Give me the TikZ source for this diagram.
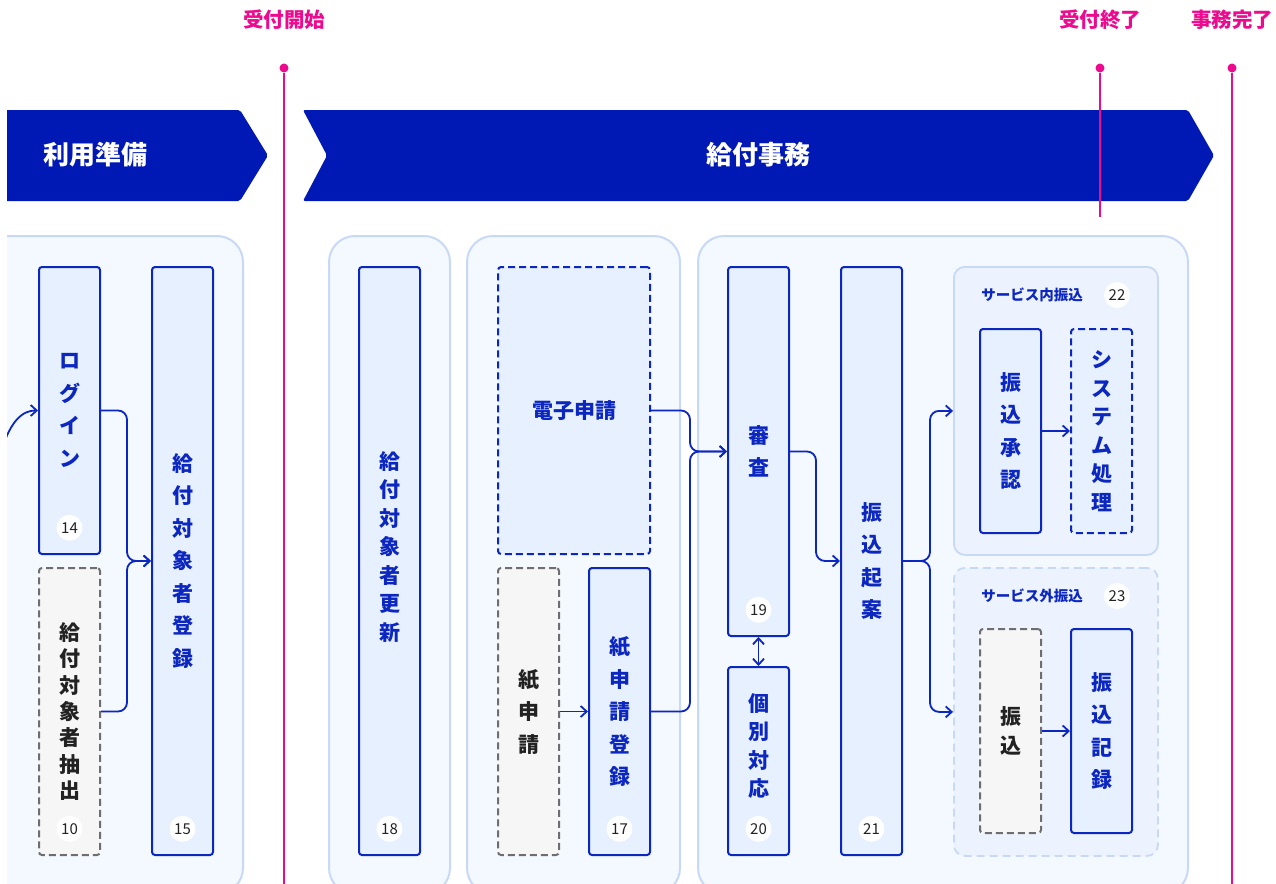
\documentclass[tikz,border=0pt]{standalone}
\usepackage{fontspec}
\setmainfont{Noto Sans CJK JP}
\usepackage{tikz}
\usetikzlibrary{positioning, arrows.meta}

\definecolor{bannerblue}{HTML}{0019B4}
\definecolor{inkblue}{HTML}{0C26C0}
\definecolor{boxfill}{HTML}{E6F0FE}
\definecolor{panelfill}{HTML}{F4F8FF}
\definecolor{panelline}{HTML}{C8D9F8}
\definecolor{subfill}{HTML}{ECF3FF}
\definecolor{grayline}{HTML}{6E6E6E}
\definecolor{grayfill}{HTML}{F6F6F7}
\definecolor{grayink}{HTML}{222222}
\definecolor{milestone}{HTML}{EC0A8E}

\tikzset{
    >={Straight Barb[length=6pt,width=11pt]}, % open arrow heads
    flow/.style={->, draw=inkblue, line width=1.8pt, rounded corners=9pt}, % connectors between tasks
    elbow/.style={to path={-- ++(#1,0) |- (\tikztotarget)}}, % go right, then turn to the target
    lines/.style={font=\bfseries\fontsize{21}{#1}\selectfont}, % #1 is the line distance of the vertical text
    panel/.style={fill=panelfill, draw=panelline, line width=2pt, rounded corners=26pt, anchor=north west, minimum height=658pt},
    subpanel/.style={fill=subfill, draw=panelline, line width=1.8pt, rounded corners=11pt, anchor=north west, minimum width=204pt, minimum height=288pt},
    task/.style={draw=inkblue, fill=boxfill, text=inkblue, line width=2pt, rounded corners=3pt,
        minimum width=61pt, anchor=north west, align=center, inner sep=0pt, lines=32.5},
    system/.style={task, dash pattern=on 7pt off 4pt}, % dashed blue
    manual/.style={task, draw=grayline, fill=grayfill, text=grayink, dash pattern=on 7pt off 4pt}, % dashed gray
    boxtext/.style={text=inkblue, align=center, inner sep=0pt, lines=28.5},
    badge/.style={circle, fill=white, minimum size=26pt, inner sep=0pt, text=grayink, font=\fontsize{15}{15}\selectfont},
    subtitle/.style={text=inkblue, font=\bfseries\fontsize{14.5}{14.5}\selectfont},
    bannertext/.style={text=white, font=\bfseries\fontsize{26}{26}\selectfont},
    mstext/.style={text=milestone, font=\bfseries\fontsize{20.5}{20.5}\selectfont},
    msdot/.style={circle, fill=milestone, minimum size=9pt, inner sep=0pt},
    msline/.style={draw=milestone, line width=1.6pt},
}

\begin{document}
\begin{tikzpicture}[x=1pt, y=-1pt]
    \useasboundingbox (0,0) rectangle (1276,883);
    \clip (7,0) rectangle (1276,883);

    % phase banners
    \fill[bannerblue, rounded corners=2pt] (-10,110) -- (240,110) -- (268,155.5) -- (240,201) -- (-10,201) -- cycle;
    \fill[bannerblue, rounded corners=2pt] (303,110) -- (1188,110) -- (1214,155.5) -- (1188,201) -- (303,201) -- (327,155.5) -- cycle;
    \node[bannertext] (prepname) at (95,155) {利用準備};
    \node[bannertext] (workname) at (758,155) {給付事務};

    % panels
    \node[panel, minimum width=272pt] (prep)  at (-30,235) {};
    \node[panel, minimum width=121pt] (renew) at (328,235) {};
    \node[panel, minimum width=213pt] (apply) at (466,235) {};
    \node[panel, minimum width=490pt] (pay)   at (697,235) {};
    \node[subpanel] (inpanel) at (953,266) {};
    \node[subpanel, dash pattern=on 8pt off 5pt] (outpanel) at (953,567) {};
    \node[subtitle] (intitle)  at (1032,295) {サービス内振込};
    \node[subtitle] (outtitle) at (1032,596) {サービス外振込};

    % tasks
    % \node[<style>] (name) at (top left) {text};
    \node[task, minimum height=287pt] (login) at (38,266) {ロ\\グ\\イ\\ン};
    \node[manual, minimum height=287pt, lines=26.4] (extract) at (38,567) {給\\付\\対\\象\\者\\抽\\出};
    \node[task, minimum height=588pt] (register) at (151,266) {給\\付\\対\\象\\者\\登\\録};
    \node[task, minimum height=588pt, label={[boxtext, name=renewtext, yshift=14pt]center:給\\付\\対\\象\\者\\更\\新}] (update) at (358,266) {};
    \node[system, minimum width=152pt, minimum height=287pt] (eapply) at (497,266) {電子申請};
    \node[manual, minimum height=287pt] (paper) at (497,567) {紙\\申\\請};
    \node[task, minimum height=287pt] (paperreg) at (588,567) {紙\\申\\請\\登\\録};
    \node[task, minimum height=369pt] (review) at (727,266) {審\\査};
    \node[task, minimum height=188pt, label={[boxtext, name=specialtext, yshift=15pt]center:個\\別\\対\\応}] (special) at (727,666) {};
    \node[task, minimum height=588pt] (draft) at (840,266) {振\\込\\起\\案};
    \node[task, minimum height=204pt] (approve) at (979,328) {振\\込\\承\\認};
    \node[system, minimum height=204pt, lines=28.5] (sysproc) at (1070,328) {シ\\ス\\テ\\ム\\処\\理};
    \node[manual, minimum height=204pt, lines=29] (transfer) at (979,628) {振\\込};
    \node[task, minimum height=204pt] (record) at (1070,628) {振\\込\\記\\録};

    % numbers
    \node[badge, above=14pt of login.south] (b14) {14};
    \node[badge, above=14pt of extract.south] (b10) {10};
    \node[badge, above=14pt of register.south] (b15) {15};
    \node[badge, above=14pt of update.south] (b18) {18};
    \node[badge, above=14pt of paperreg.south] (b17) {17};
    \node[badge, above=14pt of review.south] (b19) {19};
    \node[badge, above=14pt of special.south] (b20) {20};
    \node[badge, above=14pt of draft.south] (b21) {21};
    \node[badge] (b22) at (1117,295) {22};
    \node[badge] (b23) at (1117,596) {23};

    % draw Edges
    \coordinate (entry) at (2,448);
    \draw[flow] (entry) to[out=70, in=180] (login.west);
    \draw   (login.east)    edge[flow, elbow=26] (register.west)
            (extract.east)  edge[flow, elbow=26] (register.west)
            (eapply.east)   edge[flow, elbow=39] (review.west)
            (paperreg.east) edge[flow, elbow=39] (review.west)
            (paper.east)    edge[flow] (paperreg.west)
            (review.east)   edge[flow, elbow=26] (draft.west)
            (review.south)  edge[flow, <->] (special.north)
            (draft.east)    edge[flow, elbow=27] (inpanel.west)
            (draft.east)    edge[flow, elbow=27] (outpanel.west)
            (approve.east)  edge[flow] (sysproc.west)
            (transfer.east) edge[flow] (record.west);

    % milestones
    \node[mstext] (mstart) at (284,20) {受付開始};
    \node[mstext] (mclose) at (1100,20) {受付終了};
    \node[mstext] (mdone)  at (1232,20) {事務完了};
    \node[msdot] (dstart) at (284,68) {};
    \node[msdot] (dclose) at (1100,68) {};
    \node[msdot] (ddone)  at (1232,68) {};
    \coordinate (estart) at (284,900);
    \coordinate (eclose) at (1100,217);
    \coordinate (edone)  at (1232,900);
    \draw[msline] (dstart) -- (estart);
    \draw[msline] (dclose) -- (eclose);
    \draw[msline] (ddone) -- (edone);
\end{tikzpicture}
\end{document}
